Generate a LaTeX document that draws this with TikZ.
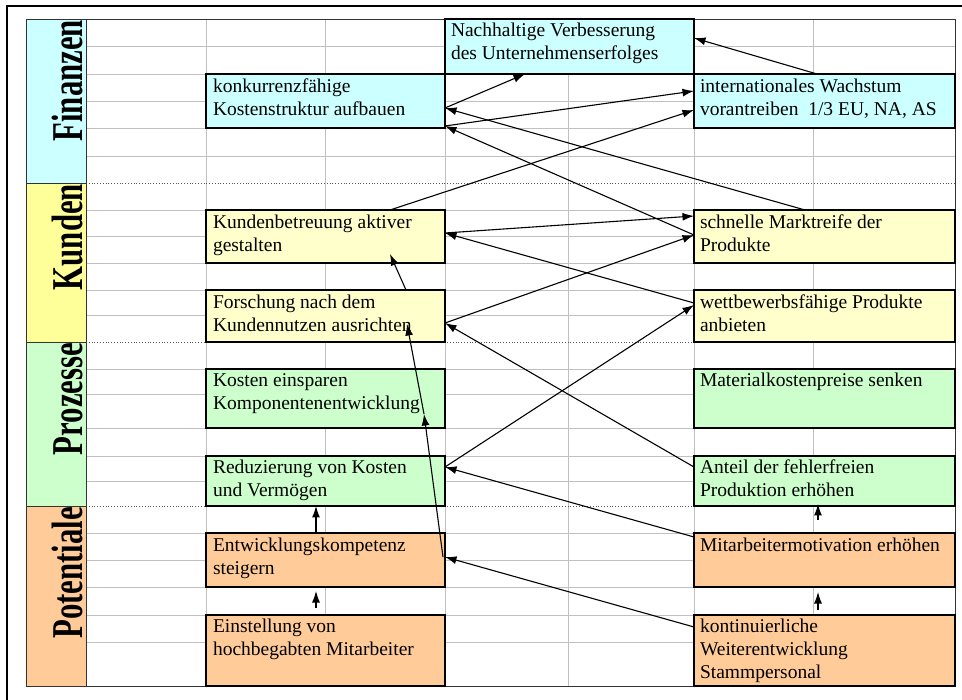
\documentclass[tikz,border=0pt]{standalone}
\usepackage{fontspec}
\setmainfont{Liberation Serif}
\usetikzlibrary{arrows.meta}
\definecolor{cyanc}{HTML}{CCFFFF}
\definecolor{yellowlab}{HTML}{FFFF99}
\definecolor{yellowc}{HTML}{FFFFCC}
\definecolor{greenc}{HTML}{CCFFCC}
\definecolor{orangec}{HTML}{FFCC99}
\definecolor{gridc}{HTML}{C0C0C0}
\newcommand{\celltext}[1]{\begin{tabular}[t]{@{}l@{}}#1\end{tabular}}
\begin{document}
\begin{tikzpicture}[x=1pt,y=-1pt,
  gridline/.style={draw=gridc, line width=0.9pt},
  sepline/.style={draw=black!65, dotted, line width=0.8pt},
  seccell/.style={rectangle, draw=black!80, line width=0.9pt, inner sep=0, outer sep=0, anchor=north west, minimum width=60pt},
  cbox/.style={rectangle, draw=black, line width=1.1pt, inner sep=0, outer sep=0, anchor=north west},
  ctext/.style={anchor=north west, inner sep=0, outer sep=0, font=\fontsize{19.5}{23}\selectfont},
  lab/.style={rotate=90, anchor=base east, inner sep=0, outer sep=0, font=\fontsize{44}{44}\selectfont\bfseries},
  arr/.style={-{Latex[length=11.5pt,width=8pt]}, line width=1.1pt, black},
]
\useasboundingbox (0,0) rectangle (962,700);
\fill[white] (0,0) rectangle (962,700);
% outer frame (cut off at right and bottom)
\draw[line width=2pt] (7,6) rectangle (990,730);
% grid
\foreach \yy in {46,74,101,128,156,210,236,263,290,315,369,394,428,456,481,533,560,587,615,642}
  \draw[gridline] (86,\yy) -- (955,\yy);
\foreach \xx in {206,325,445,568,694,813}
  \draw[gridline] (\xx,19) -- (\xx,686);
\foreach \yy in {183,342,506}
  \draw[sepline] (86,\yy) -- (955,\yy);
\draw[draw=black!80, line width=0.9pt] (26,19) rectangle (955,686);
% section label cells
\node[seccell, fill=cyanc, minimum height=164pt] (secF) at (26,19) {};
\node[seccell, fill=yellowlab, minimum height=159pt] (secK) at (26,183) {};
\node[seccell, fill=greenc, minimum height=164pt] (secP) at (26,342) {};
\node[seccell, fill=orangec, minimum height=180pt] (secO) at (26,506) {};
\node[lab] (labF) at ([xshift=-4pt,yshift=-1pt]secF.north east) {\scalebox{0.7}[1]{Finanzen}};
\node[lab] (labK) at ([xshift=-4pt,yshift=-1pt]secK.north east) {\scalebox{0.7}[1]{Kunden}};
\node[lab] (labP) at ([xshift=-4pt,yshift=-1pt]secP.north east) {\scalebox{0.7}[1]{Prozesse}};
\node[lab] (labO) at ([xshift=-4pt,yshift=-1pt]secO.north east) {\scalebox{0.7}[1]{Potentiale}};
% boxes
\node[cbox, fill=cyanc, minimum width=249pt, minimum height=55pt] (nach) at (445,19) {};
\node[cbox, fill=cyanc, minimum width=239pt, minimum height=54pt] (konk) at (206,74) {};
\node[cbox, fill=cyanc, minimum width=261pt, minimum height=54pt] (intl) at (694,74) {};
\node[cbox, fill=yellowc, minimum width=239pt, minimum height=53pt] (kbet) at (206,210) {};
\node[cbox, fill=yellowc, minimum width=261pt, minimum height=53pt] (markt) at (694,210) {};
\node[cbox, fill=yellowc, minimum width=239pt, minimum height=52pt] (forsch) at (206,290) {};
\node[cbox, fill=yellowc, minimum width=261pt, minimum height=52pt] (wett) at (694,290) {};
\node[cbox, fill=greenc, minimum width=239pt, minimum height=59pt] (kost) at (206,369) {};
\node[cbox, fill=greenc, minimum width=261pt, minimum height=59pt] (mat) at (694,369) {};
\node[cbox, fill=greenc, minimum width=239pt, minimum height=50pt] (redu) at (206,456) {};
\node[cbox, fill=greenc, minimum width=261pt, minimum height=50pt] (anteil) at (694,456) {};
\node[cbox, fill=orangec, minimum width=239pt, minimum height=54pt] (entw) at (206,533) {};
\node[cbox, fill=orangec, minimum width=261pt, minimum height=54pt] (motiv) at (694,533) {};
\node[cbox, fill=orangec, minimum width=239pt, minimum height=71pt] (einst) at (206,615) {};
\node[cbox, fill=orangec, minimum width=261pt, minimum height=71pt] (kont) at (694,615) {};
% texts
\node[ctext] (nacht) at ([xshift=6pt,yshift=-1pt]nach.north west) {\celltext{Nachhaltige Verbesserung\\des Unternehmenserfolges}};
\node[ctext] (konkt) at ([xshift=7pt,yshift=-2.5pt]konk.north west) {\celltext{konkurrenzfähige\\Kostenstruktur aufbauen}};
\node[ctext] (intlt) at ([xshift=6pt,yshift=-2.5pt]intl.north west) {\celltext{internationales Wachstum\\vorantreiben\ \ 1/3 EU, NA, AS}};
\node[ctext] (kbett) at ([xshift=7pt,yshift=-2.5pt]kbet.north west) {\celltext{Kundenbetreuung aktiver\\gestalten}};
\node[ctext] (marktt) at ([xshift=6pt,yshift=-2.5pt]markt.north west) {\celltext{schnelle Marktreife der\\Produkte}};
\node[ctext] (forscht) at ([xshift=7pt,yshift=-2pt]forsch.north west) {\celltext{Forschung nach dem\\Kundennutzen ausrichten}};
\node[ctext] (wettt) at ([xshift=6pt,yshift=-2pt]wett.north west) {\celltext{wettbewerbsfähige Produkte\\anbieten}};
\node[ctext] (kostt) at ([xshift=7pt,yshift=-1.5pt]kost.north west) {\celltext{Kosten einsparen\\Komponentenentwicklung}};
\node[ctext] (matt) at ([xshift=6pt,yshift=-1.5pt]mat.north west) {\celltext{Materialkostenpreise senken}};
\node[ctext] (redut) at ([xshift=7pt,yshift=-1.5pt]redu.north west) {\celltext{Reduzierung von Kosten\\und Vermögen}};
\node[ctext] (anteilt) at ([xshift=6pt,yshift=-1.5pt]anteil.north west) {\celltext{Anteil der fehlerfreien\\Produktion erhöhen}};
\node[ctext] (entwt) at ([xshift=7pt,yshift=-2pt]entw.north west) {\celltext{Entwicklungskompetenz\\steigern}};
\node[ctext] (motivt) at ([xshift=6pt,yshift=-2pt]motiv.north west) {\celltext{Mitarbeitermotivation erhöhen}};
\node[ctext] (einstt) at ([xshift=7pt,yshift=-1pt]einst.north west) {\celltext{Einstellung von\\hochbegabten Mitarbeiter}};
\node[ctext] (kontt) at ([xshift=6pt,yshift=-1pt]kont.north west) {\celltext{kontinuierliche\\Weiterentwicklung\\Stammpersonal}};
% connectors
\draw[arr] ([xshift=123pt]intl.north west) -- ([yshift=-19pt]nach.north east);
\draw[arr] ([yshift=-34pt]konk.north east) -- ([xshift=80pt]nach.south west);
\draw[arr] ([xshift=111pt]markt.north west) -- ([yshift=-34pt]konk.north east);
\draw[arr] ([yshift=-52pt]konk.north east) -- ([yshift=-17pt]intl.north west);
\draw[arr] ([yshift=-25pt]markt.north west) -- ([yshift=-52pt]konk.north east);
\draw[arr] ([xshift=184pt]kbet.north west) -- ([yshift=-36pt]intl.north west);
\draw[arr] ([yshift=-23pt]kbet.north east) -- ([yshift=-6pt]markt.north west);
\draw[arr] ([yshift=-13pt]wett.north west) -- ([yshift=-23pt]kbet.north east);
\draw[arr] ([xshift=200pt]forsch.north west) -- ([xshift=184pt,yshift=9pt]kbet.south west);
\draw[arr] ([yshift=-33pt]forsch.north east) -- ([yshift=-25pt]markt.north west);
\draw[arr] ([yshift=-11pt]anteil.north west) -- ([yshift=-33pt]forsch.north east);
\draw[arr] ([yshift=-11pt]redu.north east) -- ([yshift=-15pt]wett.north west);
\draw[arr] ([yshift=-4pt]motiv.north west) -- ([yshift=-11pt]redu.north east);
\draw[arr] ([yshift=-12pt]kont.north west) -- ([yshift=-24pt]entw.north east);
\draw[arr] ([xshift=-2pt,yshift=-24pt]entw.north east) -- ([xshift=218pt,yshift=14pt]kost.south west);
\draw[arr] ([xshift=218pt,yshift=14pt]kost.south west) -- ([xshift=201pt,yshift=18pt]forsch.south west);
\draw[arr] ([xshift=110pt]entw.north west) -- ([xshift=110pt]redu.south west);
\draw[arr] ([xshift=110pt,yshift=7pt]einst.north west) -- ([xshift=110pt,yshift=-4pt]entw.south west);
\draw[arr] ([xshift=124pt,yshift=13pt]motiv.north west) -- ([xshift=124pt,yshift=2pt]anteil.south west);
\draw[arr] ([xshift=124pt,yshift=5pt]kont.north west) -- ([xshift=124pt,yshift=-5pt]motiv.south west);
\end{tikzpicture}
\end{document}
